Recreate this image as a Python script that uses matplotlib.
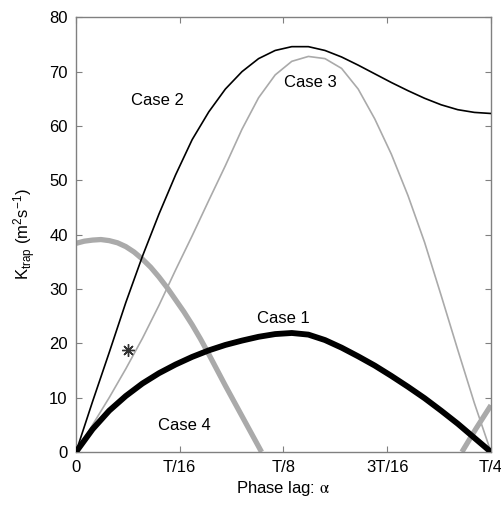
import numpy as np
import matplotlib
matplotlib.use("Agg")
import matplotlib.pyplot as plt


plt.rcParams['font.family'] = ['Liberation Sans', 'DejaVu Sans']
plt.rcParams['mathtext.fontset'] = 'custom'
plt.rcParams['mathtext.rm'] = 'Liberation Sans'
plt.rcParams['mathtext.it'] = 'Liberation Sans:italic'

# phase lag in units of the period T
phase = [0, 0.01, 0.02, 0.03, 0.04, 0.05, 0.06, 0.07, 0.08, 0.09, 0.10, 0.11, 0.12,
         0.13, 0.14, 0.15, 0.16, 0.17, 0.18, 0.19, 0.20, 0.21, 0.22, 0.23, 0.24, 0.25]

case1_y = [0, 4.2, 7.6, 10.3, 12.6, 14.5, 16.1, 17.5, 18.7, 19.7, 20.5, 21.2, 21.7,
           21.9, 21.6, 20.6, 19.2, 17.6, 15.9, 14.0, 12.0, 9.9, 7.6, 5.2, 2.6, 0]

case2_y = [0, 9.3, 18.3, 27.5, 36.0, 43.8, 51.0, 57.5, 62.6, 66.8, 70.0, 72.4, 73.9,
           74.6, 74.6, 73.9, 72.7, 71.2, 69.6, 68.0, 66.5, 65.1, 63.9, 63.0, 62.5, 62.3]

case3_y = [0, 5.0, 10.0, 15.3, 20.9, 27.0, 33.5, 39.8, 46.3, 52.7, 59.4, 65.2, 69.4,
           71.9, 72.8, 72.4, 70.6, 66.8, 61.3, 54.8, 47.2, 38.6, 28.8, 18.8, 9.0, 0]

case4_x = [0, 0.005, 0.01, 0.015, 0.02, 0.025, 0.03, 0.035, 0.04, 0.045, 0.05, 0.055,
           0.06, 0.065, 0.07, 0.075, 0.08, 0.085, 0.09, 0.095, 0.10, 0.105, 0.1118]
case4_y = [38.4, 38.8, 39.0, 39.1, 38.9, 38.5, 37.8, 36.8, 35.5, 34.0, 32.2, 30.2,
           28.0, 25.8, 23.4, 20.8, 18.0, 15.1, 12.2, 9.4, 6.6, 3.8, 0]
case4b_x = [0.2325, 0.2410, 0.25]
case4b_y = [0, 4.3, 8.6]

star_x = [0.0311]
star_y = [18.75]

xtick_vals = [0, 1/16, 1/8, 3/16, 1/4]
xtick_labels = ['0', 'T/16', 'T/8', '3T/16', 'T/4']
ytick_vals = [0, 10, 20, 30, 40, 50, 60, 70, 80]


fig = plt.figure(figsize=(5.02, 5.05), dpi=100)
ax = fig.add_axes([0.1514, 0.105, 0.8266, 0.8607])

ax.plot(case4_x, case4_y, color='#aaaaaa', lw=3.8, solid_capstyle='butt', zorder=2)
ax.plot(case4b_x, case4b_y, color='#aaaaaa', lw=3.8, solid_capstyle='butt', zorder=2)
ax.plot(phase, case3_y, color='#aaaaaa', lw=1.2, zorder=3)
ax.plot(phase, case2_y, color='black', lw=1.2, zorder=3)
ax.plot(phase, case1_y, color='black', lw=4.2, solid_capstyle='butt', zorder=4)
ax.plot(star_x, star_y, linestyle='none', marker=(8, 2, 0), markersize=9,
        markeredgewidth=1.0, color='#333333', zorder=5)

ax.text(0.0492, 64.7, 'Case 2', ha='center', va='center', fontsize=12)
ax.text(0.1410, 68.0, 'Case 3', ha='center', va='center', fontsize=12)
ax.text(0.1247, 24.6, 'Case 1', ha='center', va='center', fontsize=12)
ax.text(0.0651, 4.8, 'Case 4', ha='center', va='center', fontsize=12)

ax.set_xlim(0, 0.25)
ax.set_ylim(0, 80)
ax.set_xticks(xtick_vals)
ax.set_xticklabels(xtick_labels)
ax.set_yticks(ytick_vals)
ax.tick_params(direction='in', top=True, right=True, length=4, width=0.8,
               color='#808080', labelsize=12, pad=6)
for s in ax.spines.values():
    s.set_color('#808080')
    s.set_linewidth(1.0)

ax.set_xlabel('Phase lag: $\\mathrm{\\alpha}$', fontsize=12, math_fontfamily='stix', labelpad=3)
ax.set_ylabel('K$_{\\mathrm{trap}}$ (m$^{2}$s$^{-1}$)', fontsize=12, labelpad=8)

fig.savefig('out.png', dpi=100)
